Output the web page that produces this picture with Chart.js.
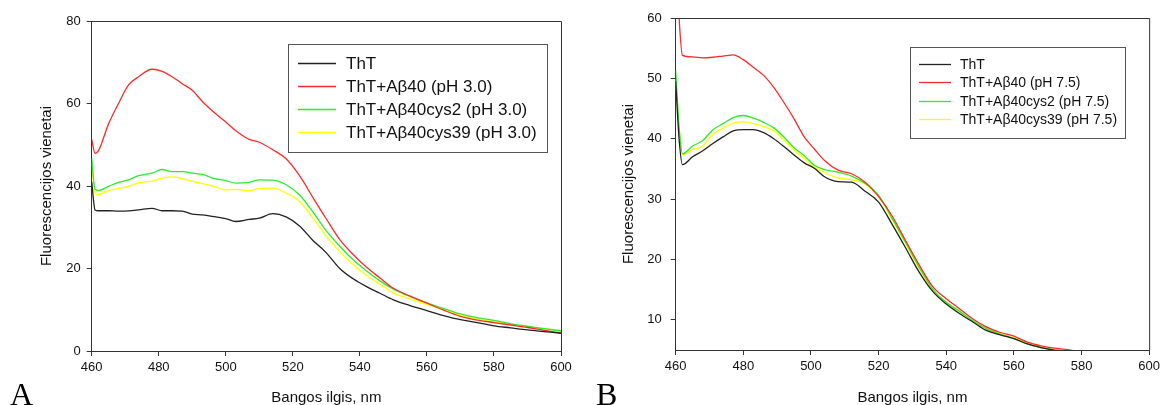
<!DOCTYPE html>
<html>
<head>
<meta charset="utf-8">
<script src="https://cdn.jsdelivr.net/npm/chart.js@4"></script>
<style>
  body { margin: 0; background: #fff; }
  #wrap { position: relative; width: 1164px; height: 405px; }
  canvas { position: absolute; top: 0; }
  #chartA { left: 0; }
  #chartB { left: 582px; }
</style>
</head>
<body>
<div id="wrap">
  <canvas id="chartA" width="582" height="405"></canvas>
  <canvas id="chartB" width="582" height="405"></canvas>
</div>
<script>
// panel A, pH 3.0
const wavelengthsA = [460, 461, 462, 465, 468, 471, 474, 478, 481, 484, 487, 490, 493, 497, 500, 503, 507, 510, 514, 518, 522, 526, 530, 534, 538, 542, 546, 550, 555, 560, 565, 570, 575, 580, 585, 590, 595, 600]
const thtA = [41.0, 34.2, 34.0, 34.0, 33.9, 33.95, 34.2, 34.6, 34.0, 34.0, 33.9, 33.2, 33.0, 32.5, 32.1, 31.4, 31.9, 32.2, 33.3, 32.5, 30.3, 26.8, 23.8, 20.0, 17.5, 15.6, 14.0, 12.4, 11.0, 9.8, 8.6, 7.6, 6.9, 6.1, 5.6, 5.1, 4.7, 4.3]
const ab40A = [51.3, 47.9, 48.5, 55.0, 60.0, 64.5, 66.5, 68.3, 67.8, 66.5, 64.8, 63.2, 60.5, 57.5, 55.5, 53.4, 51.3, 50.6, 48.8, 46.6, 42.5, 37.2, 32.0, 27.0, 23.4, 20.3, 17.7, 15.2, 13.3, 11.6, 9.9, 8.4, 7.5, 6.9, 6.3, 5.7, 5.0, 4.4]
const cys2A = [46.7, 39.2, 38.9, 39.9, 40.9, 41.5, 42.5, 43.1, 44.0, 43.5, 43.5, 43.1, 42.8, 41.7, 41.3, 40.7, 40.9, 41.5, 41.4, 40.3, 37.8, 33.7, 29.1, 25.4, 22.1, 19.4, 17.0, 15.0, 13.2, 11.7, 10.3, 9.0, 8.1, 7.4, 6.6, 6.0, 5.4, 4.85]
const cys39A = [45.5, 38.2, 37.9, 38.9, 39.4, 39.9, 40.8, 41.2, 41.9, 42.2, 41.8, 41.1, 40.6, 39.8, 39.0, 39.2, 38.8, 39.4, 39.5, 38.3, 36.3, 32.2, 27.8, 24.1, 20.9, 18.3, 16.2, 14.1, 12.6, 11.3, 10.0, 8.7, 7.8, 7.1, 6.4, 5.9, 5.4, 5.0]
const labelsA = ['ThT', 'ThT+A\u03b240 (pH 3.0)', 'ThT+A\u03b240cys2 (pH 3.0)', 'ThT+A\u03b240cys39 (pH 3.0)']
const yTicksA = [0, 20, 40, 60, 80]

// panel B, pH 7.5
const wavelengthsB = [460, 461, 462, 465, 468, 471, 474, 477, 480, 483, 486, 489, 492, 495, 498, 501, 504, 508, 512, 516, 520, 524, 528, 532, 536, 540, 544, 548, 552, 556, 560, 564, 568, 572, 576, 580]
const thtB = [49.5, 40.0, 35.7, 37.0, 38.0, 39.2, 40.3, 41.3, 41.5, 41.5, 41.0, 40.0, 38.7, 37.3, 36.0, 35.1, 33.7, 32.9, 32.8, 31.3, 29.5, 25.8, 21.9, 17.9, 14.7, 12.6, 11.0, 9.6, 8.2, 7.5, 6.9, 6.0, 5.4, 4.95, 4.5, 4.2]
const ab40B = [72, 60, 53.8, 53.55, 53.4, 53.5, 53.7, 53.9, 53.1, 51.8, 50.5, 48.5, 46.0, 43.3, 40.3, 38.3, 36.4, 34.8, 34.2, 32.8, 30.4, 27.2, 23.1, 19.1, 15.5, 13.5, 11.8, 10.1, 8.8, 7.9, 7.3, 6.3, 5.7, 5.3, 5.05, 4.6]
const cys2B = [51.2, 42.0, 37.5, 38.8, 39.7, 41.5, 42.5, 43.5, 43.85, 43.4, 42.7, 41.8, 40.3, 38.5, 37.2, 35.6, 34.9, 34.45, 33.8, 32.6, 30.6, 26.8, 22.8, 18.7, 15.1, 12.9, 11.4, 9.8, 8.5, 7.6, 6.9, 6.0, 5.4, 5.05, 4.8, 4.4]
const cys39B = [49.8, 41.5, 37.35, 38.2, 38.8, 40.7, 41.8, 42.6, 42.8, 42.5, 42.0, 41.3, 39.8, 38.1, 36.8, 35.3, 34.4, 33.5, 33.2, 32.5, 30.4, 26.6, 22.6, 18.5, 15.0, 12.8, 11.3, 9.8, 8.6, 7.7, 7.0, 6.2, 5.5, 5.1, 4.9, 4.6]
const labelsB = ['ThT', 'ThT+A\u03b240 (pH 7.5)', 'ThT+A\u03b240cys2 (pH 7.5)', 'ThT+A\u03b240cys39 (pH 7.5)']
const yTicksB = [10, 20, 30, 40, 50, 60]

const xTicks = [460, 480, 500, 520, 540, 560, 580, 600]
const colors = ['#222222', '#ff2a2a', '#2aee2a', '#ffff00']

const sans = "'Liberation Sans', Arial, sans-serif"

// top and right edges of the plot box, legend box, panel letter
const extras = {
  id: 'extras',
  afterDraw(chart, args, o) {
    const { ctx, chartArea: a } = chart
    ctx.save()
    ctx.strokeStyle = '#333'
    ctx.lineWidth = 1
    ctx.beginPath()
    ctx.moveTo(a.left, a.top + 0.5)
    ctx.lineTo(a.right + 0.5, a.top + 0.5)
    ctx.lineTo(a.right + 0.5, a.bottom)
    ctx.stroke()

    const L = o.legend
    ctx.fillStyle = '#fff'
    ctx.fillRect(L.x, L.y, L.w, L.h)
    ctx.strokeStyle = '#555'
    ctx.strokeRect(L.x + 0.5, L.y + 0.5, L.w, L.h)
    ctx.font = L.size + 'px ' + sans
    ctx.textBaseline = 'middle'
    chart.data.datasets.forEach((ds, i) => {
      const y = Math.round(L.rowY + i * L.gap) + 0.5
      ctx.strokeStyle = ds.borderColor
      ctx.lineWidth = 1.3
      ctx.beginPath()
      ctx.moveTo(L.lineX1, y)
      ctx.lineTo(L.lineX2, y)
      ctx.stroke()
      ctx.fillStyle = '#111'
      ctx.fillText(ds.label, L.textX, y + 1)
    })

    ctx.font = "32px 'Liberation Serif', 'Times New Roman', serif"
    ctx.fillStyle = '#000'
    ctx.textBaseline = 'alphabetic'
    ctx.fillText(o.letter, o.letterX, 405)
    ctx.restore()
  },
}

function makeChart(id, wl, series, labels, yMin, yMax, yTicks, area, tickPad, legend, letter) {
  return new Chart(document.getElementById(id), {
    type: 'line',
    data: {
      labels: wl,
      datasets: series.map((s, i) => ({
        label: labels[i],
        data: s,
        borderColor: colors[i],
        borderWidth: 1.3,
        pointRadius: 0,
        cubicInterpolationMode: 'monotone',
        fill: false,
      })),
    },
    options: {
      responsive: false,
      animation: false,
      events: [],
      layout: { padding: { left: 0, top: area.top, right: area.right, bottom: 0 } },
      plugins: {
        legend: { display: false },
        tooltip: { enabled: false },
        extras: { legend: legend, letter: letter.text, letterX: letter.x },
      },
      scales: {
        x: {
          type: 'linear',
          min: 460,
          max: 600,
          afterBuildTicks: (scale) => { scale.ticks = xTicks.map((v) => ({ value: v })) },
          afterFit: (scale) => { scale.height = area.xh },
          grid: { drawOnChartArea: false, tickLength: 5, color: '#333' },
          border: { color: '#333' },
          ticks: { padding: 4, color: '#111', font: { family: sans, size: 13 } },
          title: {
            display: true,
            text: 'Bangos ilgis, nm',
            color: '#111',
            font: { family: sans, size: 15, lineHeight: 1 },
            padding: { top: 0, bottom: 0 },
          },
        },
        y: {
          min: yMin,
          max: yMax,
          afterBuildTicks: (scale) => { scale.ticks = yTicks.map((v) => ({ value: v })) },
          afterFit: (scale) => { scale.width = area.left },
          grid: { drawOnChartArea: false, tickLength: 5, color: '#333' },
          border: { color: '#333' },
          ticks: { padding: tickPad, color: '#111', font: { family: sans, size: 13 } },
          title: {
            display: true,
            text: 'Fluorescencijos vienetai',
            color: '#111',
            font: { family: sans, size: 15, lineHeight: 1 },
            padding: { top: 39, bottom: 0 },
          },
        },
      },
    },
    plugins: [extras],
  })
}

makeChart('chartA', wavelengthsA, [thtA, ab40A, cys2A, cys39A], labelsA, 0, 80, yTicksA,
  { left: 91.7, top: 21, right: 21, xh: 54 }, 6,
  { x: 288, y: 44, w: 259, h: 108, rowY: 63, gap: 23, lineX1: 298, lineX2: 336, textX: 346, size: 17 },
  { text: 'A', x: 10 })

makeChart('chartB', wavelengthsB, [thtB, ab40B, cys2B, cys39B], labelsB, 5, 60, yTicksB,
  { left: 93.7, top: 18, right: 14, xh: 55 }, 9,
  { x: 328, y: 47, w: 215, h: 91, rowY: 64, gap: 18.4, lineX1: 337, lineX2: 369, textX: 378, size: 14 },
  { text: 'B', x: 14 })
</script>
</body>
</html>
